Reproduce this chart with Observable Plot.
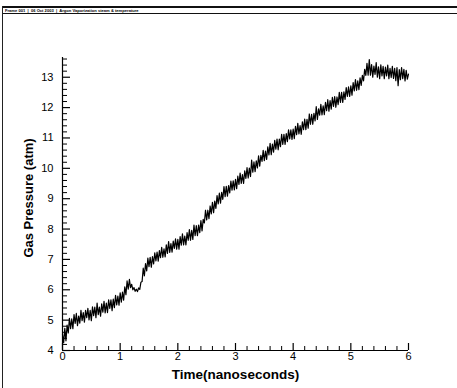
<!DOCTYPE html>
<html>
<head>
<meta charset="utf-8">
<script src="https://cdn.jsdelivr.net/npm/d3@7"></script>
<script src="https://cdn.jsdelivr.net/npm/@observablehq/plot@0.6"></script>
<style>
  html, body { margin: 0; padding: 0; background: white; }
  #wrap { position: relative; width: 457px; height: 388px; overflow: hidden; }
  #header {
    position: absolute; left: 2px; top: 6px; right: 0; height: 5px;
    border-top: 2px solid #111; border-bottom: 1px solid #111;
    font: bold 4.1px "Liberation Sans", Arial, sans-serif; line-height: 5px;
    padding-left: 3px; white-space: pre; color: #000;
  }
  #leftline { position: absolute; left: 2px; top: 6px; bottom: 0; width: 1px; background: #222; }
  svg { display: block; }
</style>
</head>
<body>
<div id="wrap">
  <div id="chart"></div>
  <div id="header">Frame 001  |  06 Oct 2003  |  Argon Vaporization steam &amp; temperature</div>
  <div id="leftline"></div>
</div>
<script>
// Sampling grid of the pressure trace (nanoseconds)
const tStart = 0, tStep = 0.02;

// Gas pressure (atm), per 1 ns segment
const p0 = [4.52,4.26,4.73,4.32,4.84,4.58,5.06,4.72,5.04,4.72,5.18,4.89,5.22,4.82,5.13,4.90,5.32,4.98,5.25,4.93,
            5.32,5.08,5.39,5.01,5.32,4.98,5.44,5.15,5.43,5.08,5.56,5.18,5.43,5.13,5.54,5.26,5.62,5.24,5.56,5.25,
            5.67,5.39,5.67,5.31,5.69,5.41,5.82,5.50,5.79,5.49];
const p1 = [5.90,5.59,5.92,5.66,6.10,5.84,6.29,6.02,6.34,6.07,6.18,6.00,6.07,5.95,6.02,5.94,6.06,6.01,6.25,6.27,
            6.71,6.46,6.86,6.62,7.04,6.76,7.07,6.74,7.09,6.85,7.22,6.95,7.24,6.94,7.29,7.06,7.40,7.07,7.35,7.08,
            7.48,7.20,7.59,7.23,7.52,7.24,7.60,7.36,7.68,7.34];
const p2 = [7.66,7.34,7.75,7.47,7.84,7.48,7.77,7.48,7.88,7.63,7.98,7.63,7.96,7.66,8.13,7.78,8.11,7.78,8.13,7.88,
            8.28,7.94,8.32,8.20,8.62,8.30,8.62,8.34,8.76,8.50,8.88,8.54,8.92,8.68,9.10,8.83,9.18,8.85,9.21,8.98,
            9.40,9.07,9.41,9.08,9.43,9.19,9.58,9.28,9.59,9.29];
const p3 = [9.64,9.33,9.74,9.47,9.84,9.50,9.79,9.50,9.92,9.67,10.02,9.68,10.01,9.73,10.27,9.87,10.21,9.89,10.25,10.01,
            10.41,10.07,10.43,10.23,10.59,10.25,10.57,10.29,10.71,10.44,10.82,10.45,10.80,10.53,10.92,10.63,10.96,10.61,10.96,10.71,
            11.12,10.79,11.12,10.79,11.14,10.88,11.27,10.97,11.27,10.95];
const p4 = [11.29,10.98,11.38,11.11,11.48,11.13,11.41,11.12,11.53,11.27,11.62,11.27,11.61,11.32,11.79,11.45,11.78,11.45,11.81,11.56,
            12.03,11.61,11.96,11.75,12.11,11.76,12.06,11.77,12.17,11.90,12.26,11.88,12.23,11.95,12.34,12.04,12.36,12.01,12.35,12.10,
            12.50,12.17,12.50,12.17,12.52,12.27,12.66,12.37,12.68,12.37];
const p5 = [12.72,12.41,12.82,12.55,12.92,12.57,12.88,12.59,12.98,12.73,13.06,12.88,13.26,13.06,13.46,13.07,13.58,13.07,13.42,13.00,
            13.37,13.09,13.48,13.00,13.34,12.95,13.41,13.04,13.36,12.95,13.33,13.04,13.40,12.95,13.29,12.99,13.36,12.96,13.29,12.89,
            13.32,12.72,13.25,12.92,13.32,12.95,13.26,12.88,13.23,12.94,13.10];

// Tick labels
const xTicks = [0, 1, 2, 3, 4, 5, 6];
const yTicks = [4, 5, 6, 7, 8, 9, 10, 11, 12, 13];
const xLabel = "Time(nanoseconds)";
const yLabel = "Gas Pressure (atm)";

const pressure = [...p0, ...p1, ...p2, ...p3, ...p4, ...p5];
const data = pressure.map((p, i) => ({t: tStart + i * tStep, p}));

const xMinor = d3.range(0, 6.0001, 0.2).filter(v => Math.abs(v - Math.round(v)) > 1e-6);
const yMinor = d3.range(4, 13.6001, 0.2).filter(v => Math.abs(v - Math.round(v)) > 1e-6);

const W = 457, H = 388, mL = 62, mR = 49, mT = 57, mB = 38;
const pw = W - mL - mR, ph = H - mT - mB;

const chart = Plot.plot({
  width: W, height: H,
  marginLeft: mL, marginRight: mR, marginTop: mT, marginBottom: mB,
  style: {fontFamily: "'Liberation Sans', Arial, sans-serif", fontSize: "11px", background: "white", color: "black"},
  x: {domain: [0, 6], axis: null},
  y: {domain: [4, 13.65], axis: null},
  marks: [
    Plot.line(data, {x: "t", y: "p", stroke: "black", strokeWidth: 1.2}),
    Plot.ruleX([0], {stroke: "black", strokeWidth: 1.2}),
    Plot.ruleY([4], {stroke: "black", strokeWidth: 1.2}),
    Plot.tickX(xTicks, {x: d => d, insetTop: ph - 7, stroke: "black", strokeWidth: 1.2}),
    Plot.tickX(xMinor, {x: d => d, insetTop: ph - 4, stroke: "black", strokeWidth: 1}),
    Plot.tickY(yTicks, {y: d => d, insetRight: pw - 8, stroke: "black", strokeWidth: 1.2}),
    Plot.tickY(yMinor, {y: d => d, insetRight: pw - 5, stroke: "black", strokeWidth: 1}),
    Plot.axisX(xTicks, {tickSize: 0, tickPadding: 2, label: null, fontSize: 11}),
    Plot.axisY(yTicks, {tickSize: 0, tickPadding: 9, label: null, fontSize: 11}),
    Plot.text([xLabel], {frameAnchor: "bottom", dy: 24, lineAnchor: "middle", textAnchor: "middle", text: d => d, fontWeight: "bold", fontSize: 13.5, fill: "black"}),
    Plot.text([yLabel], {frameAnchor: "left", dx: -34, dy: -6, rotate: -90, textAnchor: "middle", lineAnchor: "middle", text: d => d, fontWeight: "bold", fontSize: 13, fill: "black"})
  ]
});
document.getElementById("chart").appendChild(chart);
</script>
</body>
</html>
